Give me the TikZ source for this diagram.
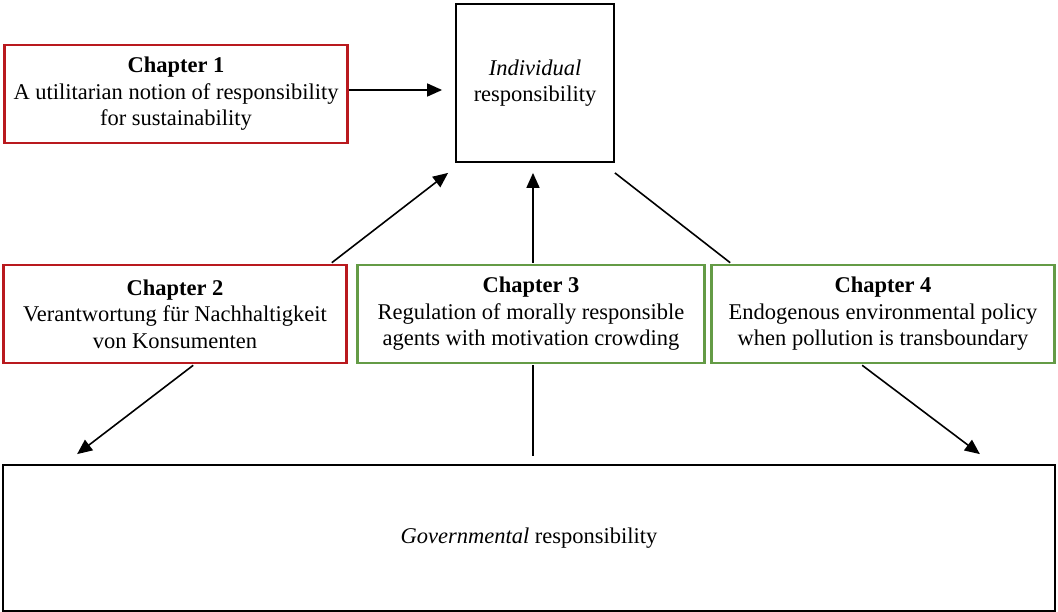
\documentclass[tikz,border=0pt]{standalone}
\usepackage{fontspec}
\setmainfont{Liberation Serif}
\usepackage{xcolor}
\usepackage{tikz}
\usetikzlibrary{arrows.meta,calc,positioning}
\definecolor{chapred}{RGB}{185,25,30}
\definecolor{chapgreen}{RGB}{100,155,70}
\tikzset{%
	chapbox/.style = {draw, rectangle, line width=2.6pt, minimum width=343pt, minimum height=98pt, align=center, inner sep=0pt},
	redbox/.style   = {chapbox, draw=chapred},
	greenbox/.style = {chapbox, draw=chapgreen},
	levelbox/.style = {draw, rectangle, line width=1.8pt, align=center, inner sep=0pt},
	arrow/.style    = {line width=1.6pt, -{Triangle[length=15pt,width=13pt]}},
	link/.style     = {line width=1.6pt},
}

\begin{document}
\begin{tikzpicture}[x=1pt,y=-1pt,font=\fontsize{22.5}{26.5}\selectfont]
	\useasboundingbox (0,0) rectangle (1058,612);
	% responsibility levels
	\node[levelbox, minimum width=158pt, minimum height=158pt] (ind) at (535,83) {\textit{Individual}\\responsibility};
	\node[levelbox, minimum width=1052pt, minimum height=146pt] (gov) at (529,538) {\textit{Governmental} responsibility};
	
	% chapters
	\node[redbox] (ch1) at (176,94) {\textbf{Chapter 1}\\A utilitarian notion of responsibility\\for sustainability};
	\node[redbox] (ch2) at (175,314) {\textbf{Chapter 2}\\Verantwortung für Nachhaltigkeit\\von Konsumenten};
	\node[greenbox, minimum width=347pt] (ch3) at (531,314) {\textbf{Chapter 3}\\Regulation of morally responsible\\agents with motivation crowding};
	\node[greenbox] (ch4) at (883,314) {\textbf{Chapter 4}\\Endogenous environmental policy\\when pollution is transboundary};
	
	% connectors
	\draw[arrow, shorten >=13pt] ($(ch1.east)+(0,-4)$) -- ($(ch1.east -| ind.west)+(0,-4)$);
	\draw[arrow] ($(ch2.north east)+(-16,-1)$) -- ($(ind.south west)+(-7,10)$);
	\draw[arrow] ($(ch3.north)+(2,-1)$) -- ($(ind.south)+(-2,10)$);
	\draw[link] ($(ind.south east)+(0,10)$) -- ($(ch4.north west)+(20,-1)$);
	\draw[arrow] ($(ch2.south west)+(191,1)$) -- ($(gov.north west)+(75,-10)$);
	\draw[link] ($(ch3.south)+(2,1)$) -- ($(gov.north)+(4,-8)$);
	\draw[arrow] ($(ch4.south west)+(152,1)$) -- ($(gov.north east)+(-76,-10)$);
\end{tikzpicture}
\end{document}
